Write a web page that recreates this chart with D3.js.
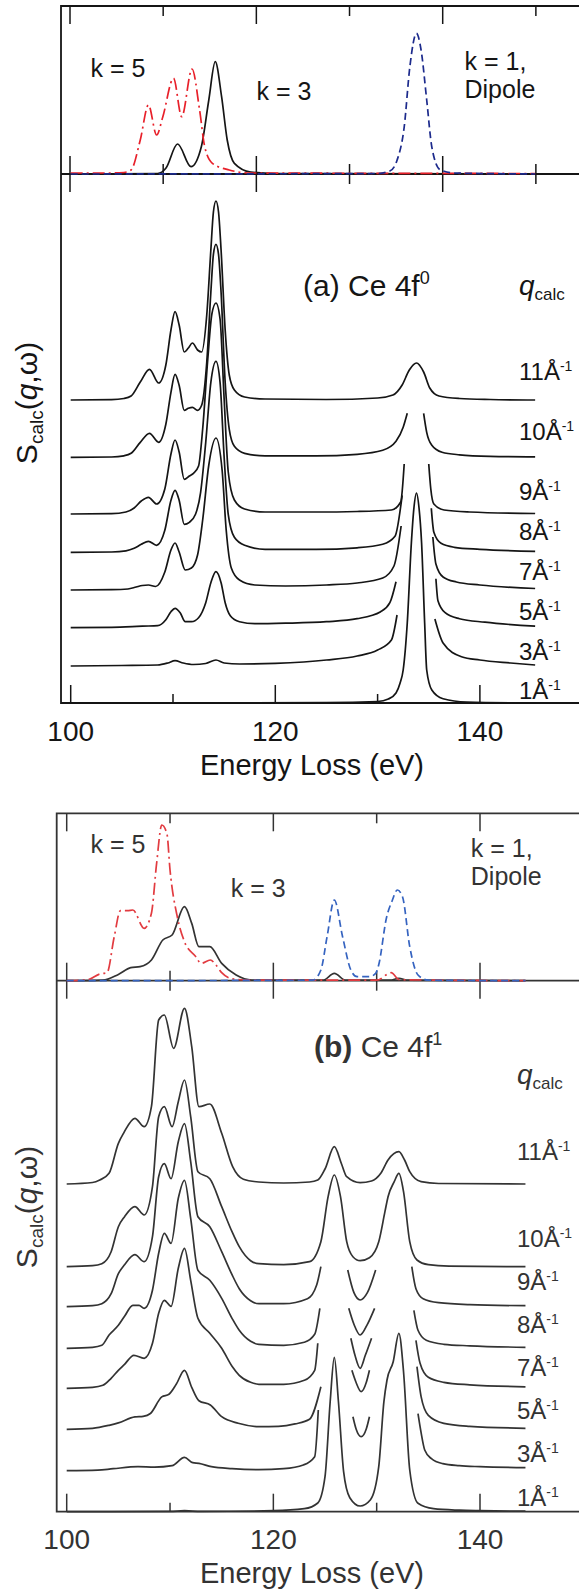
<!DOCTYPE html>
<html>
<head>
<meta charset="utf-8">
<script src="https://cdn.jsdelivr.net/npm/d3@7"></script>
<style>
  body { margin: 0; background: #fff; }
  text { font-family: "Liberation Sans", Arial, sans-serif; }
</style>
</head>
<body>
<script>
// ---- data (energies in eV, intensities in arbitrary units above each curve's own baseline) ----
const qLabels = ['11', '10', '9', '8', '7', '5', '3', '1'];
const energyTicksMajor = [100, 120, 140];
const energyTicksMinor = [110, 130, 150];
const tickLabels = ['100', '120', '140'];

const offsetsA = [303, 245.7, 189, 150.7, 113, 75.3, 37, 0];
const offsetsB = [327.7, 245, 205, 163.4, 123.4, 82.4, 41, 0];

// panel (a) inset, Ce 4f0
const insetA_k5 = [[100,1],[104,1],[105.2,1.5],[105.9,4],[106.8,34],[107.6,69],[108.4,39],[109.0,57],[110.05,95.7],[110.85,57.3],[111.86,105],[112.6,64],[113.1,27.3],[113.85,10.7],[115.5,4],[117.6,1],[145.4,0.5]];
const insetA_k3 = [[100,0],[108.5,0.5],[109.3,5.7],[110.45,30],[111.76,7.3],[112.77,27.3],[113.5,74],[114.13,112.3],[114.75,77.3],[115.3,34],[116.0,10.7],[117.6,2],[120,0.5],[145.4,0]];
const insetA_k1 = [[100,0],[130,0.5],[131.2,3],[131.9,13.7],[132.6,47],[133.15,107],[133.8,140.7],[134.25,124],[134.8,74],[135.3,27],[136.1,4.3],[137.5,1],[145.4,0]];

// panel (a) main, one series per q
const a11 = [[100,0],[104,0.3],[105.2,1.5],[105.9,4],[106.8,18],[107.7,30.7],[108.6,17],[109.3,35],[109.8,70],[110.2,88.3],[110.6,75],[111.1,48],[111.5,52],[111.9,57],[112.4,50],[112.8,48],[113.3,85],[113.7,150],[113.95,188],[114.2,199],[114.45,188],[114.7,150],[115.1,70],[115.5,25],[116,10],[117,3],[119,1],[125,0.5],[130,2],[131.5,5],[132.4,15],[133.1,30],[133.8,37],[134.5,28],[135.1,12],[136,4],[138,1.5],[141,0.5],[145.4,0]];
const a10 = [[100,0],[104,0.3],[105.2,1.5],[105.9,4],[106.8,15],[107.7,24],[108.6,15],[109.3,33],[109.8,65],[110.2,83],[110.6,72],[111.1,47],[111.5,49],[111.9,50],[112.4,47],[112.8,52],[113.3,95],[113.7,165],[113.95,203],[114.2,213],[114.45,203],[114.7,165],[115.1,75],[115.5,28],[116,11],[117,4],[119,1.5],[124,1.5],[128,3],[130.5,7],[131.8,16],[132.5,30],[132.9,44],[133.7,null],[134.5,44],[134.8,25],[135.3,12],[136.3,5],[138,2.5],[141,1],[145.4,0.5]];
const a9 = [[100,0],[104,0.3],[105.4,2],[106.2,6],[106.9,13],[107.6,16.7],[108.4,10],[109.2,25],[109.8,60],[110.2,74],[110.6,62],[111.1,34.7],[111.6,38],[112,40.7],[112.5,48],[112.9,85],[113.4,155],[113.8,200],[114.2,211],[114.6,195],[115,115],[115.4,42],[116,14],[117,5],[119,2],[124,2],[128,2.5],[131.35,4],[132.26,12],[132.6,50],[133.7,null],[135,50],[135.2,25],[135.5,10],[136.5,4],[139,2],[145.4,0.5]];
const a8 = [[100,0],[104,0.3],[105.4,1.5],[106.2,4],[106.9,8],[107.6,11],[108.4,7],[109.2,22],[109.8,52],[110.2,62],[110.6,52],[111.1,28],[111.6,30],[112.2,38],[112.7,60],[113.2,110],[113.7,170],[114.2,191],[114.6,170],[115,95],[115.4,38],[116,15],[117,7],[119,3],[124,3],[128,4.5],[130.5,8],[131.7,16],[132.4,57],[133.7,null],[135.25,44],[135.5,20],[136.2,9],[137.5,5],[140,3],[145.4,1]];
const a7 = [[100,0],[104,0.3],[105.6,1],[106.4,3],[107,4.5],[107.6,5],[108.3,3.5],[109.2,18],[109.8,40],[110.2,47],[110.6,38],[111.2,20],[111.8,22],[112.4,35],[112.9,70],[113.5,125],[114.2,152],[114.8,120],[115.2,60],[115.7,22],[116.5,10],[118,5],[121,4],[125,5],[128,7],[130.5,12],[131.6,24],[132.3,64],[133.7,null],[135.4,53],[135.7,26],[136.4,13],[137.7,8],[140,5],[145.4,1.5]];
const a5 = [[100,0],[104,0.3],[106,1],[107,1.5],[108.5,2],[109.3,8],[109.8,16],[110.2,19.4],[110.7,15],[111.2,6],[111.8,6],[112.5,10],[113.2,25],[113.7,45],[114.2,56],[114.7,45],[115.1,25],[115.6,12],[116.5,6],[118,4],[121,4.5],[125,6],[128,9],[130.3,16],[131.2,25],[131.8,46],[133.7,null],[135.7,49],[135.9,27],[136.6,15],[138,9],[140.5,5.5],[145.4,1.5]];
const a3 = [[100,0],[105,0.5],[108.5,1],[109.5,3],[110.2,5.3],[111,3],[112,1.5],[113.2,2.5],[114.2,6],[115,3],[116.5,2],[120,2.7],[125,6],[128,10],[130,16],[131.35,26],[131.9,51],[133.7,null],[135.6,47],[136.4,23],[138.2,9.3],[140,6],[143,3],[145.4,1]];
const a1 = [[100,0],[125,0.3],[130,1.5],[131.05,4],[131.8,10],[132.2,20],[132.5,33],[132.9,80],[133.3,160],[133.55,195],[133.8,210],[134.05,195],[134.3,160],[134.6,80],[134.8,33],[135.3,13],[136.4,4.3],[138.7,1],[145.4,0]];

// panel (b) inset, Ce 4f1
const insetB_k5 = [[100,0],[102,1],[103.2,6.7],[103.9,8],[104.6,44],[105.2,70],[105.9,70],[106.4,70.7],[107.5,52.4],[108.2,67.4],[108.7,117],[109.2,155.7],[109.7,147],[110.0,110.7],[110.7,64],[111.4,39],[112.5,24],[113.0,17.3],[113.9,20.7],[114.45,15.7],[115,8],[116,2],[118,0.5],[130,0.5],[131.4,8],[132.2,1],[144.4,0]];
const insetB_k3 = [[100,0],[103.5,0.5],[105.0,6.3],[106.2,13],[107.1,14],[108.2,20.7],[109.3,40.7],[110.2,45.7],[111.4,74],[112.1,57.3],[112.8,34],[113.85,34],[115.0,17.3],[116.4,5.7],[117.9,0.7],[124.8,0.5],[125.9,7.3],[127,0.5],[131.3,0.5],[132.15,2.3],[133,0.5],[144.4,0]];
const insetB_k1 = [[100,0],[123.8,0.5],[124.6,10.7],[125.2,44],[125.9,80.7],[126.7,44],[127.5,10.7],[128.1,4],[129.3,4],[129.9,7.3],[130.2,16],[130.95,63],[131.5,80],[132.0,90.7],[132.5,84],[133.2,34],[134,5.7],[135,0.5],[144.4,0]];

// panel (b) main
const b11 = [[100,0],[102.5,1.5],[103.2,4],[104.1,10.7],[105,40.7],[105.5,50.7],[106.6,65.7],[107.5,57.3],[108.2,77.3],[108.9,164],[109.45,169],[110.35,135.7],[111.4,175.7],[112.1,137.3],[112.8,77.3],[113.85,80],[115,50.7],[116.06,17.3],[117.1,4.7],[118.6,2],[121,1],[123.5,2],[124.3,4],[125,15],[125.9,37.3],[126.6,20],[127.1,7.3],[128.4,1.3],[129.5,3],[130.4,10.7],[131.1,24],[132.15,32.3],[132.7,24],[133.2,12.3],[134.3,2.3],[136,0.5],[144.4,0]];
const b10 = [[100,0],[102.5,1],[103.4,3],[104.3,15],[105,40],[105.6,50],[106.6,60],[107.5,51.7],[108.3,80],[108.9,150],[109.45,160],[110.2,140],[110.8,165],[111.4,186.7],[112,150],[112.7,95],[113.85,88],[115,60],[116,35],[116.7,20],[117.8,6],[118.6,3],[121,2],[123.5,5],[124.6,25],[125.3,70],[125.9,91.7],[126.5,70],[127.1,25],[127.7,10],[128.4,6],[129.3,9],[130.2,25],[130.8,55],[131.1,70],[131.7,85],[132.15,93.3],[132.6,75],[133.2,25],[133.9,6.7],[135,2],[137,0.5],[144.4,0]];
const b9 = [[100,0],[102.5,1],[103.4,3],[104.3,13],[105,33],[105.6,42],[106.6,52],[107.5,45],[108.3,70],[108.9,130],[109.45,143],[110.1,128],[110.8,165],[111.4,183],[112,145],[112.7,90],[113.85,80],[115,55],[116,32],[116.7,18],[117.8,6],[118.6,3],[121,3],[123.3,8],[124.2,22],[124.6,40],[125.9,null],[127.2,36.7],[127.8,14],[128.4,6.7],[129.1,14],[129.9,36.7],[131.5,null],[133.4,40],[133.8,18],[134.5,8],[136,4],[139,2],[144.4,1]];
const b8 = [[100,0],[102.5,1],[103.4,3],[104.1,13.3],[105,23],[105.6,32],[106.4,43],[107,43],[107.5,40],[108.3,58],[108.9,95],[109.45,115],[110.1,105],[110.8,150],[111.4,168],[112,130],[112.7,78],[113.85,68],[115,50],[116,30],[116.7,18],[117.8,7],[118.6,4],[121,3],[123,6],[124,14],[124.5,40],[125.9,null],[127.3,40],[127.8,24],[128.4,13.3],[129.1,24],[129.8,40],[131.5,null],[133.6,38],[134,18],[134.8,8],[136.5,4],[139,2.5],[144.4,1]];
const b7 = [[100,0],[102.5,1],[103.5,3],[104.3,10],[105,18],[105.6,24],[106.5,33],[107.5,30],[108.3,45],[108.9,75],[109.45,88],[110.1,82],[110.8,120],[111.4,140],[112,108],[112.7,70],[113.85,55],[115,40],[116,22],[116.7,13],[117.8,6],[118.6,4],[121,4],[123,8],[124,18],[124.3,45],[125.9,null],[127.5,50],[127.9,33],[128.4,20],[128.9,33],[129.5,50],[131.5,null],[133.8,48],[134.2,25],[135,11],[136.5,6],[139,3.5],[144.4,1.5]];
const b5 = [[100,0],[102.5,1],[104.1,4],[105,6.4],[106.6,12.4],[107.4,13],[108.1,15.8],[109.2,32.4],[109.9,35],[110.6,45],[111.4,59],[112.1,42],[112.8,28.6],[113.9,24.3],[115,12.6],[116.6,6],[118.6,2.7],[120.5,3],[122.1,5.4],[123.5,10],[124.6,42.6],[125.9,null],[127.6,59],[128,47],[128.5,37.6],[129,47],[129.3,59],[131.5,null],[133.9,62.7],[134.3,32.7],[135,14],[136.5,6],[139,3],[144.4,1]];
const b3 = [[100,0],[103,0.5],[104.5,2],[106.9,4],[108.5,3.5],[110.2,5],[111.4,13.4],[112.2,8],[112.8,7.4],[114,4],[116,2],[118.6,1],[121,2],[122.9,5.7],[124,14],[124.35,60.7],[125.9,null],[127.7,54],[128,42],[128.5,34],[129,42],[129.3,54],[131.5,null],[134,57],[134.3,38],[134.65,20.7],[135.3,12],[136.4,7],[138,5],[140,4],[144.4,3]];
const b1 = [[100,0],[110,0.3],[111.4,1],[113,0.3],[120,1],[123,3],[124.3,8.7],[125,35],[125.5,110],[125.9,154.4],[126.3,110],[126.8,40],[127.4,14],[128.4,5.7],[129.4,12],[130.2,45],[130.7,110],[131,131.7],[131.6,150],[132.15,178.4],[132.6,140],[133.2,41.7],[134,8.4],[135.5,3],[138,1.5],[140,1],[144.4,0.5]];

// ---- drawing ----
const W = 579, H = 1591;
const svg = d3.select('body').append('svg').attr('width', W).attr('height', H);
svg.append('rect').attr('width', W).attr('height', H).attr('fill', '#fff');

function drawPanel(p) {
  const g = svg.append('g');
  const x = d3.scaleLinear().domain([100, 140]).range(p.xRange);
  const xTick = d3.scaleLinear().domain([100, 140]).range(p.tickRange);
  const xTickTop = d3.scaleLinear().domain([100, 140]).range(p.insetTickRange);
  const yIn = d3.scaleLinear().domain([0, p.mid - p.top]).range([p.mid, p.top]);
  const yMain = d3.scaleLinear().domain([0, p.bottom - p.mid]).range([p.bottom, p.mid]);

  // frame
  g.append('path')
    .attr('d', `M${W},${p.top}H${p.left}V${p.bottom}H${W}M${p.left},${p.mid}H${W}`)
    .attr('fill', 'none').attr('stroke', p.ink).attr('stroke-width', 1.8);

  const tick = (vals, scale, y, up, down) => g.append('g').selectAll('line').data(vals).join('line')
    .attr('x1', d => scale(d)).attr('x2', d => scale(d))
    .attr('y1', y - up).attr('y2', y + down)
    .attr('stroke', p.ink).attr('stroke-width', 1.5);
  tick(energyTicksMajor, xTickTop, p.top, 0, 18);
  tick(energyTicksMinor, xTickTop, p.top, 0, 10);
  tick(energyTicksMajor, xTickTop, p.mid, 18, 18);
  tick(energyTicksMinor, xTickTop, p.mid, 10, 10);
  tick(energyTicksMajor, xTick, p.bottom, 18, 0);
  tick(energyTicksMinor, xTick, p.bottom, 9, 0);

  const line = (y, off) => d3.line()
    .defined(d => d[1] !== null)
    .x(d => x(d[0])).y(d => y(off + d[1]))
    .curve(d3.curveMonotoneX);

  // inset curves
  g.append('path').attr('d', line(yIn, 0)(p.k3)).attr('fill', 'none')
    .attr('stroke', p.ink).attr('stroke-width', 1.7);
  g.append('path').attr('d', line(yIn, 0)(p.k5)).attr('fill', 'none')
    .attr('stroke', p.red).attr('stroke-width', 1.7).attr('stroke-dasharray', '12,4,2,4');
  g.append('path').attr('d', line(yIn, 0)(p.k1)).attr('fill', 'none')
    .attr('stroke', p.blue).attr('stroke-width', 1.7).attr('stroke-dasharray', '7,4');

  // stacked main curves
  p.curves.forEach((c, i) => {
    g.append('path').attr('d', line(yMain, p.offsets[i])(c)).attr('fill', 'none')
      .attr('stroke', p.ink).attr('stroke-width', 1.7);
  });

  // q labels, lifted a little more for the upper curves
  const lab = g.append('g').attr('fill', p.ink).attr('font-size', 24);
  qLabels.forEach((q, i) => {
    const y0 = yMain(p.offsets[i]);
    const t = lab.append('text').attr('x', p.labelX).attr('y', y0 - p.liftBase - (p.bottom - y0) * 0.054);
    t.append('tspan').text(q + 'Å');
    t.append('tspan').attr('dy', -9).attr('font-size', 14).text('-1');
  });
  const qc = g.append('text').attr('x', p.labelX).attr('y', p.qcalcY).attr('fill', p.ink).attr('font-size', 28);
  qc.append('tspan').attr('font-style', 'italic').text('q');
  qc.append('tspan').attr('font-size', 17).attr('dy', 5).text('calc');

  // title
  const tt = g.append('text').attr('x', p.titleX).attr('y', p.titleY).attr('fill', p.ink).attr('font-size', 30);
  if (p.boldTag) {
    tt.append('tspan').attr('font-weight', 'bold').text(p.tag);
    tt.append('tspan').text(' Ce 4f');
  } else {
    tt.append('tspan').text(p.tag + ' Ce 4f');
  }
  tt.append('tspan').attr('dy', -12).attr('font-size', 18).text(p.sup);

  // inset labels
  const il = g.append('g').attr('fill', p.ink).attr('font-size', 25);
  il.append('text').attr('x', 90.5).attr('y', p.top + p.k5LabelDy).text('k = 5');
  il.append('text').attr('x', p.k3X).attr('y', p.top + p.k3LabelDy).text('k = 3');
  il.append('text').attr('x', p.k1X).attr('y', p.top + p.k1LabelDy).text('k = 1,');
  il.append('text').attr('x', p.k1X).attr('y', p.top + p.k1LabelDy + 28.5).text('Dipole');

  // x tick labels and title
  g.append('g').selectAll('text').data(energyTicksMajor).join('text')
    .attr('x', d => xTick(d)).attr('y', p.bottom + 37.5)
    .attr('text-anchor', 'middle').attr('font-size', 28).attr('fill', p.ink)
    .text((d, i) => tickLabels[i]);
  g.append('text').attr('x', 312).attr('y', p.bottom + 71.5)
    .attr('text-anchor', 'middle').attr('font-size', 29).attr('fill', p.ink)
    .text('Energy Loss (eV)');

  // y label
  const yl = g.append('text')
    .attr('transform', `translate(37,${p.yLabelY}) rotate(-90)`)
    .attr('text-anchor', 'middle').attr('font-size', 30).attr('fill', p.ink);
  yl.append('tspan').text('S');
  yl.append('tspan').attr('font-size', 19).attr('dy', 6).text('calc');
  yl.append('tspan').attr('dy', -6).text('(');
  yl.append('tspan').attr('font-style', 'italic').text('q');
  yl.append('tspan').text(',ω)');
}

drawPanel({
  left: 61, top: 6, mid: 174, bottom: 703,
  xRange: [70.7, 479.9], tickRange: [70.7, 479.9], insetTickRange: [70, 442.7],
  ink: '#151515', red: '#e8202a', blue: '#1c2a8c',
  k5: insetA_k5, k3: insetA_k3, k1: insetA_k1,
  curves: [a11, a10, a9, a8, a7, a5, a3, a1], offsets: offsetsA,
  labelX: 519, liftBase: 4, qcalcY: 295,
  tag: '(a)', boldTag: false, sup: '0', titleX: 303, titleY: 296,
  k5LabelDy: 71, k3X: 256.6, k3LabelDy: 94, k1X: 464.5, k1LabelDy: 63.5,
  yLabelY: 403
});

drawPanel({
  left: 56.7, top: 813.3, mid: 980.7, bottom: 1511.7,
  xRange: [66.7, 480], tickRange: [66.7, 480], insetTickRange: [66.7, 480],
  ink: '#333', red: '#e23b40', blue: '#3563c0',
  k5: insetB_k5, k3: insetB_k3, k1: insetB_k1,
  curves: [b11, b10, b9, b8, b7, b5, b3, b1], offsets: offsetsB,
  labelX: 517, liftBase: 6, qcalcY: 1084,
  tag: '(b)', boldTag: true, sup: '1', titleX: 314, titleY: 1057,
  k5LabelDy: 40, k3X: 230.8, k3LabelDy: 83.4, k1X: 470.8, k1LabelDy: 43.4,
  yLabelY: 1207
});
</script>
</body>
</html>
